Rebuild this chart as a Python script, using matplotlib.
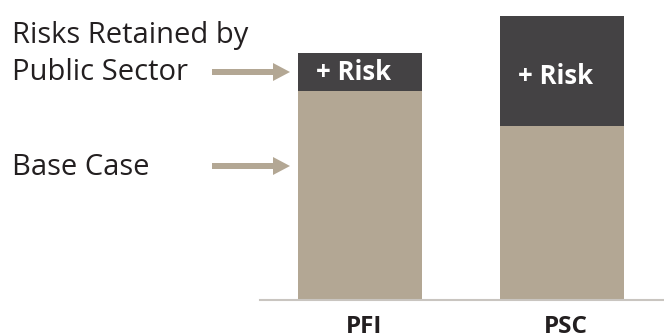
import matplotlib
matplotlib.use("Agg")
import matplotlib.pyplot as plt
from matplotlib.patches import FancyArrow
from matplotlib.transforms import Affine2D, ScaledTranslation

categories = ["PFI", "PSC"]
base_case = [209, 174]
risk = [38, 110]
risk_label = "+ Risk"

TAN = "#b3a794"
DARK = "#444244"
INK = "#231f20"
W, H = 664, 336

plt.rcParams["font.family"] = ["Open Sans", "DejaVu Sans"]

fig = plt.figure(figsize=(W / 100, H / 100), dpi=100)
ax = fig.add_axes([260 / W, (H - 300) / H, (W - 260) / W, 300 / H])

x = range(len(categories))
ax.bar(x, base_case, width=0.614, color=TAN, zorder=2)
ax.bar(x, risk, bottom=base_case, width=0.614, color=DARK, zorder=2)

label_shift = [0, -5]
for i, (b, r) in enumerate(zip(base_case, risk)):
    ax.text(i - 0.03, b + r / 2 + label_shift[i], risk_label, color="white",
            fontsize=18.5, fontweight="bold", ha="center", va="center", zorder=3)

ax.set_xlim(-0.495, 1.505)
ax.set_ylim(0, 300)
ax.set_xticks(list(x))
ax.set_xticklabels(categories, fontsize=17.5, fontweight="bold", color=INK)
ax.tick_params(axis="x", length=0, pad=11)
nudge = ScaledTranslation(4 / 100, 0, fig.dpi_scale_trans)
for lbl in ax.get_xticklabels():
    lbl.set_transform(lbl.get_transform() + nudge)
ax.set_yticks([])
for side in ("top", "left", "right"):
    ax.spines[side].set_visible(False)
ax.spines["bottom"].set_color("#c9c5c0")
ax.spines["bottom"].set_linewidth(1.5)

# pixel-space transform for the side annotations (origin at top-left)
px = Affine2D().scale(1 / W, -1 / H).translate(0, 1) + fig.transFigure

fig.text(12, 43, "Risks Retained by", transform=px, fontsize=21,
         color=INK, va="baseline")
fig.text(12, 80, "Public Sector", transform=px, fontsize=21,
         color=INK, va="baseline")
fig.text(12, 175, "Base Case", transform=px, fontsize=21,
         color=INK, va="baseline")

for yp in (72, 166):
    fig.patches.append(FancyArrow(212, yp, 78, 0, width=6, head_width=18,
                                  head_length=17, length_includes_head=True,
                                  color=TAN, lw=0, transform=px))

fig.savefig("out.png", dpi=100, facecolor="white")
